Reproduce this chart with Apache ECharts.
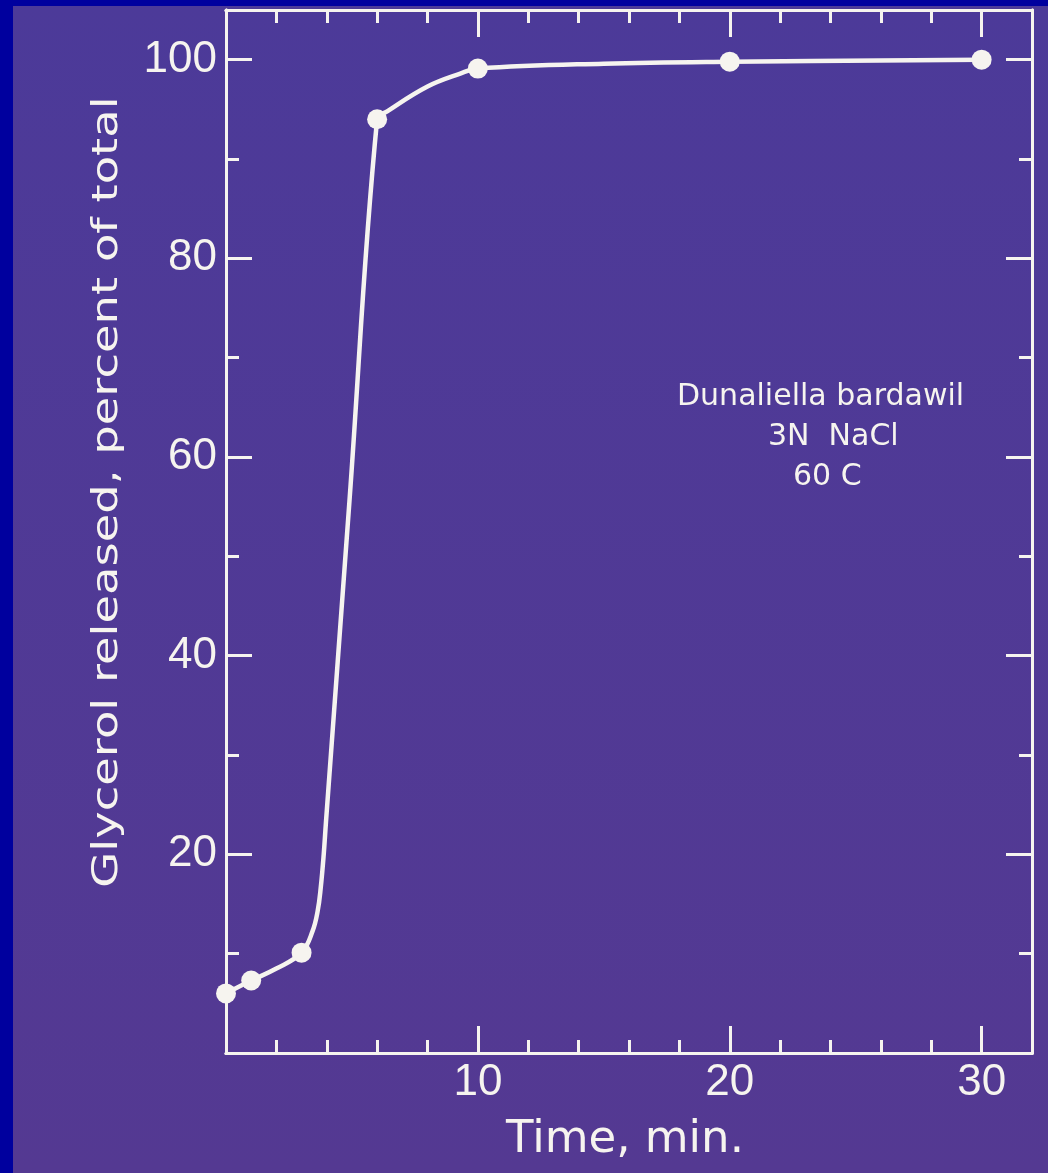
<!DOCTYPE html>
<html>
<head>
<meta charset="utf-8">
<script src="https://cdn.jsdelivr.net/npm/echarts@6/dist/echarts.min.js"></script>
<style>
html,body{margin:0;padding:0;background:#00009e;}
#chart{width:1048px;height:1173px;}
</style>
</head>
<body>
<div id="chart"></div>
<script>
// measured points
const timeMin = [0, 1, 3, 6, 10, 20, 30];
const glycerolPct = [6.0, 7.3, 10.1, 94.0, 99.1, 99.8, 100.0];
// hand-drawn curve
const curveTime = [0, 1, 2, 3, 3.44, 3.64, 3.76, 3.88, 3.97, 4.9, 6.0, 6.4, 8.0, 9.3, 10, 15, 20, 30];
const curvePct  = [6.0, 7.3, 8.5, 10.1, 12.3, 14.3, 16.6, 20.0, 23.3, 55.5, 94.0, 94.8, 97.3, 98.6, 99.1, 99.6, 99.8, 100.0];
const xLabelValues = [10, 20, 30];
const yLabelValues = [20, 40, 60, 80, 100];
const xTitle = 'Time, min.';
const yTitle = 'Glycerol released, percent of total';
const noteLines = ['Dunaliella bardawil', '3N  NaCl', '60 C'];

const W = '#f6f4ef';
const chart = echarts.init(document.getElementById('chart'));

function xAx(pos, interval, len, labels) {
  return {
    type: 'value', position: pos, min: 0, max: 32, interval: interval,
    axisLine: {show: true, onZero: false, lineStyle: {color: W, width: 3}},
    axisTick: {show: true, inside: true, length: len, lineStyle: {color: W, width: 3}},
    axisLabel: labels ? {
      show: true, margin: 8, color: W, fontFamily: 'Liberation Sans', fontSize: 44,
      formatter: v => xLabelValues.indexOf(v) >= 0 ? String(v) : ''
    } : {show: false},
    splitLine: {show: false}
  };
}
function yAx(pos, interval, len, labels) {
  return {
    type: 'value', position: pos, min: 0, max: 105, interval: interval,
    axisLine: {show: true, onZero: false, lineStyle: {color: W, width: 3}},
    axisTick: {show: true, inside: true, length: len, lineStyle: {color: W, width: 3}},
    axisLabel: labels ? {
      show: true, margin: 9, color: W, fontFamily: 'Liberation Sans', fontSize: 44,
      formatter: v => yLabelValues.indexOf(v) >= 0 ? String(v) : ''
    } : {show: false},
    splitLine: {show: false}
  };
}

const curveData = curveTime.map((t, i) => [t, curvePct[i]]);
const pointData = timeMin.map((t, i) => [t, glycerolPct[i]]);

chart.setOption({
  animation: false,
  backgroundColor: new echarts.graphic.LinearGradient(0, 0, 0, 1, [
    {offset: 0, color: '#4c3a99'}, {offset: 1, color: '#543992'}
  ]),
  grid: {left: 226, right: 16, top: 10, bottom: 120, containLabel: false},
  xAxis: [xAx('bottom', 10, 27, true), xAx('bottom', 2, 13, false), xAx('top', 10, 27, false), xAx('top', 2, 13, false)],
  yAxis: [yAx('left', 20, 26, true), yAx('left', 10, 13, false), yAx('right', 20, 26, false), yAx('right', 10, 13, false)],
  graphic: [
    {type: 'rect', z: -100, shape: {x: 0, y: 0, width: 13, height: 1173}, style: {fill: '#00009e'}, silent: true},
    {type: 'rect', z: -100, shape: {x: 0, y: 0, width: 1048, height: 6}, style: {fill: '#00009e'}, silent: true},
    {type: 'text', x: 625, y: 1140, style: {text: xTitle, fill: W, font: '45px "DejaVu Sans"', align: 'center', verticalAlign: 'middle'}},
    {type: 'text', x: 108, y: 492, rotation: Math.PI / 2, scaleX: 1.29,
     style: {text: yTitle, fill: W, font: '36px "DejaVu Sans"', align: 'center', verticalAlign: 'middle'}},
    {type: 'text', x: 677, y: 397, style: {text: noteLines[0], fill: W, font: '30px "DejaVu Sans"', align: 'left', verticalAlign: 'middle'}},
    {type: 'text', x: 768, y: 437, style: {text: noteLines[1], fill: W, font: '30px "DejaVu Sans"', align: 'left', verticalAlign: 'middle'}},
    {type: 'text', x: 793, y: 477, style: {text: noteLines[2], fill: W, font: '30px "DejaVu Sans"', align: 'left', verticalAlign: 'middle'}}
  ],
  series: [
    {type: 'line', data: curveData, smooth: 0.4, showSymbol: false, symbol: 'none',
     lineStyle: {color: W, width: 4.5}, z: 3},
    {type: 'scatter', data: pointData, symbol: 'circle', symbolSize: 20, itemStyle: {color: W, opacity: 1}, z: 4}
  ]
});
</script>
</body>
</html>
